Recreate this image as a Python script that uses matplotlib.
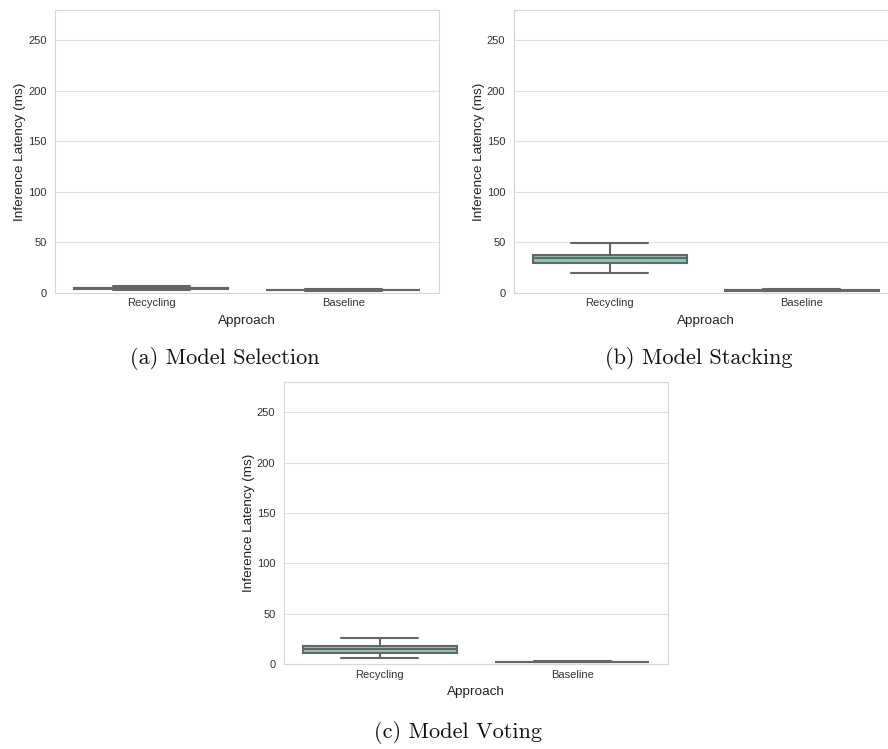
import numpy as np
import matplotlib
matplotlib.use("Agg")
import matplotlib.pyplot as plt
import seaborn as sns

sns.set_style("whitegrid", {"grid.color": "#e0e0e0", "axes.edgecolor": "#d6d6d6"})
plt.rcParams['font.family'] = ['Liberation Sans', 'DejaVu Sans']

# box summaries per experiment: whisker low, q1, median, q3, whisker high (ms)
approaches = ["Recycling", "Baseline"]

selection_recycling = [2.8, 3.5, 4.2, 5.0, 6.5]
selection_baseline = [1.8, 2.2, 2.6, 3.0, 3.8]

stacking_recycling = [19.7, 29.0, 34.0, 37.7, 49.5]
stacking_baseline = [1.6, 2.0, 2.4, 2.9, 3.6]

voting_recycling = [6.0, 11.0, 15.0, 18.0, 26.0]
voting_baseline = [1.6, 1.8, 2.0, 2.3, 2.6]

captions = ["(a) Model Selection", "(b) Model Stacking", "(c) Model Voting"]

box_color = "#8bc7b9"
edge_color = "#666666"


def make_stats(vals, label):
    lo, q1, med, q3, hi = vals
    return dict(label=label, whislo=lo, q1=q1, med=med, q3=q3, whishi=hi, fliers=[])


def draw_panel(ax, rec, base):
    stats = [make_stats(rec, approaches[0]), make_stats(base, approaches[1])]
    line = dict(color=edge_color, linewidth=1.5)
    ax.bxp(stats, positions=[0, 1], widths=0.8, capwidths=0.4,
           patch_artist=True, showfliers=False,
           boxprops=dict(facecolor=box_color, edgecolor=edge_color, linewidth=1.5),
           whiskerprops=line, capprops=line, medianprops=line)
    ax.set_xlim(-0.5, 1.5)
    ax.set_ylim(0, 280)
    ax.set_yticks([0, 50, 100, 150, 200, 250])
    ax.set_xticks([0, 1])
    ax.set_xticklabels(approaches)
    ax.tick_params(labelsize=8, colors="#333333", length=0)
    ax.tick_params(axis="y", pad=6)
    ax.tick_params(axis="x", pad=4)
    ax.set_xlabel("Approach", fontsize=9.7, color="#222222", labelpad=5)
    ax.set_ylabel("Inference Latency (ms)", fontsize=9.7, color="#222222", labelpad=1.5)
    ax.grid(axis="x", visible=False)
    ax.set_axisbelow(True)


W, H = 888, 749
fig = plt.figure(figsize=(W / 100, H / 100), dpi=100)


def px_axes(x0, y0, x1, y1):
    return fig.add_axes([x0 / W, 1 - y1 / H, (x1 - x0) / W, (y1 - y0) / H])


ax_a = px_axes(55, 10, 439.3, 292.7)
ax_b = px_axes(513.7, 10, 898, 292.7)
ax_c = px_axes(283.7, 382.3, 668.3, 664)

draw_panel(ax_a, selection_recycling, selection_baseline)
draw_panel(ax_b, stacking_recycling, stacking_baseline)
draw_panel(ax_c, voting_recycling, voting_baseline)

for (cx, cy), txt in zip([(225, 359), (699, 359), (458, 732)], captions):
    fig.text(cx / W, 1 - cy / H, txt, family="cmr10", fontsize=16,
             ha="center", va="center", color="#111111")

fig.savefig("out.png", dpi=100)
